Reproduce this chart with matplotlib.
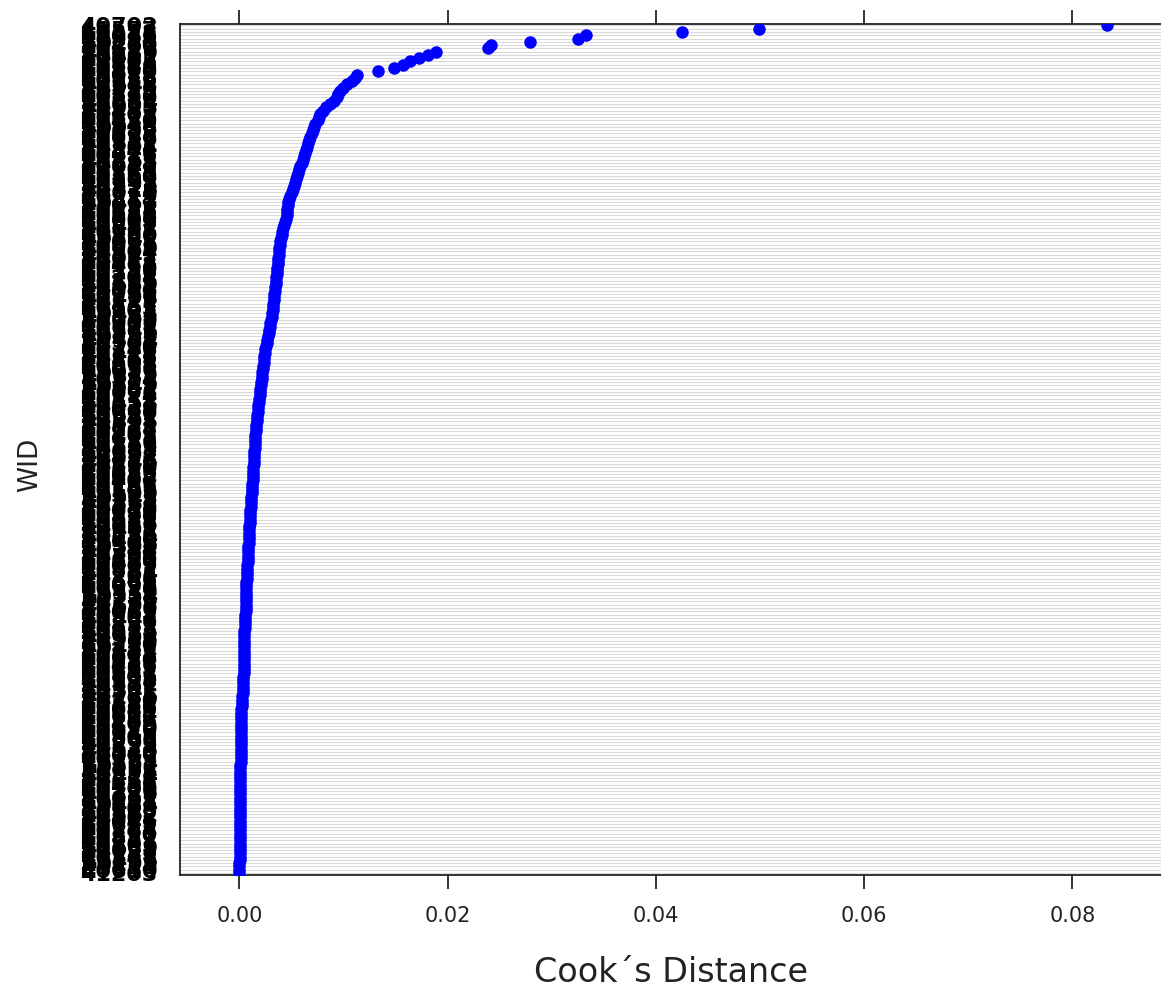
import numpy as np
import matplotlib.pyplot as plt

# WID labels, top row first
wid = """
40702 41577 40318 41026 40894 40233 41460 40517 41139 40961 40082 41305 40646 41788 40420 41012 40875 40159 41643 40396
41218 40537 40790 41354 40063 41925 40481 41107 40612 41470 40248 40933 41689 40175 41036 40759 41582 40304 41841 40426
40917 41263 40588 40041 41719 40365 41150 40802 41398 40127 41526 40674 40219 41874 40453 41091 40738 41615 40286 41002
40569 41432 40811 40197 41760 40342 41068 40625 41289 40904 41547 40071 41813 40468 40150 41376 40717 41204 40853 41659
40384 41021 40796 41498 40212 41137 40563 41902 40435 41265 40018 41703 40677 41346 40891 40259 41584 40502 41190 40746
41427 40133 41869 40608 40371 41056 40925 41632 40284 41313 40549 41781 40096 41174 40812 41458 40327 41039 40690 41527
40241 41895 40583 41118 40967 40405 41672 40136 41352 40781 40023 41597 40458 41246 40869 41810 40316 41083 40634 41402
40185 41741 40527 41199 40943 40278 41563 40711 41030 40398 41826 40652 41275 40089 41491 40836 41154 40370 41908 40599
40744 41337 40161 41620 40487 41009 40822 41754 40205 41386 40661 41093 40970 41539 40354 41228 40119 41695 40476 41062
40901 41443 40296 41857 40613 41125 40038 41598 40767 41310 40432 41747 40178 41024 40859 41476 40263 41681 40541 41161
40998 41372 40107 41541 40725 41236 40390 41782 40556 41049 40884 41617 40227 41409 40670 41170 40045 41868 40508 41293
40823 41515 40140 41067 40379 41734 40592 41251 40958 41424 40213 41651 40489 41100 40776 41339 40061 41888 40434 41208
40915 41562 40307 41045 40639 41727 40164 41390 40852 41271 40501 41639 40028 41183 40747 41436 40293 41814 40610 41203
""".split()

# Cook's distance, top row first (sorted, largest at top)
cooks_d = [
    0.0833, 0.0499, 0.0425, 0.0333, 0.0325, 0.0279, 0.0242, 0.0239, 0.0189, 0.0181,
    0.0172, 0.0164, 0.0157, 0.0148, 0.0133,
    0.0113, 0.0111, 0.0108, 0.0103, 0.0099, 0.0097, 0.0095, 0.0094,
    0.0091, 0.0087, 0.0083, 0.0080, 0.0077, 0.0076, 0.0075, 0.0073, 0.0072, 0.0071,
    0.0070, 0.0068, 0.0067, 0.0066, 0.0065, 0.0064, 0.0063, 0.0062, 0.0061, 0.0060,
    0.0058, 0.0057, 0.0056, 0.0055, 0.0054, 0.0053, 0.0052, 0.0051, 0.0050, 0.0049,
    0.00475, 0.00468, 0.00463, 0.00460, 0.00457, 0.00452, 0.00445, 0.00435, 0.00425, 0.00418,
    0.00412, 0.00406, 0.00400, 0.00393, 0.00388, 0.00384, 0.00380, 0.00376, 0.00372, 0.00370,
    0.00367, 0.00363, 0.00360, 0.00356, 0.00353, 0.00350, 0.00347, 0.00343, 0.00340, 0.00336,
    0.00331, 0.00328, 0.00325, 0.00322, 0.00318, 0.00315, 0.00312, 0.00305, 0.00298, 0.00292,
    0.00286, 0.00280, 0.00274, 0.00268, 0.00260, 0.00252, 0.00245, 0.00241, 0.00237, 0.00234,
    0.00231, 0.00228, 0.00225, 0.00221, 0.00217, 0.00213, 0.00209, 0.00205, 0.00201, 0.00197,
    0.00193, 0.00189, 0.00185, 0.00181, 0.00178, 0.00175, 0.00172, 0.00169, 0.00166, 0.00163,
    0.00160, 0.00157, 0.00154, 0.00151, 0.00149, 0.00147, 0.00145, 0.00143, 0.00141, 0.00139,
    0.00137, 0.00135, 0.00134, 0.00132, 0.00131, 0.00130, 0.00127, 0.00125, 0.00122, 0.00120,
    0.00117, 0.00115, 0.00112, 0.00110, 0.00107, 0.00105, 0.00102, 0.00100, 0.00098, 0.00097,
    0.00095, 0.00094, 0.00092, 0.00091, 0.00089, 0.00088, 0.00086, 0.00085, 0.00083, 0.00082,
    0.00080, 0.00078, 0.00076, 0.00074, 0.00072, 0.00070, 0.00068, 0.00066, 0.00064, 0.00062,
    0.00062, 0.00061, 0.00061, 0.00060, 0.00060, 0.00059, 0.00059, 0.00058, 0.00058, 0.00057,
    0.00056, 0.00055,
    0.00046, 0.00045, 0.00044, 0.00044, 0.00043, 0.00043, 0.00042, 0.00042, 0.00041, 0.00041,
    0.00040, 0.00040, 0.00039, 0.00039, 0.00038, 0.00038, 0.00037, 0.00037, 0.00036, 0.00035,
    0.00022, 0.00021, 0.00020, 0.00020, 0.00019, 0.00019, 0.00018, 0.00018, 0.00017, 0.00017,
    0.00016, 0.00016, 0.00015, 0.00015, 0.00014, 0.00014, 0.00013, 0.00013, 0.00012, 0.00012,
    0.00011,
    0.00007, 0.00007, 0.00006, 0.00006, 0.00006, 0.00005, 0.00005, 0.00005, 0.00005, 0.00004,
    0.00004, 0.00004, 0.00004, 0.00003, 0.00003, 0.00003, 0.00003, 0.00003, 0.00002, 0.00002,
    0.00002, 0.00002, 0.00002, 0.00002, 0.00001, 0.00001, 0.00001, 0.00001, 0.00001, 0.00001,
    0.00000, 0.00000, 0.00000, 0.00000,
]

x_ticks = [0.00, 0.02, 0.04, 0.06, 0.08]

n = min(len(cooks_d), len(wid))
vals = np.array(cooks_d[:n])
labels = wid[:n]
ypos = np.arange(n)[::-1]  # top row at the top

fig = plt.figure(figsize=(11.61, 9.94), dpi=100)
ax = fig.add_axes([180 / 1161, 1 - 875 / 994, 1 - 180 / 1161, (875 - 23.5) / 994])

# lattice-style row lines
for y in ypos:
    ax.axhline(y, color='#d9d9d9', lw=0.8, zorder=1)

ax.plot(vals, ypos, 'o', color='#0000ff', markersize=9, markeredgewidth=0, zorder=3)

ax.set_xlim(-0.00571, 0.0885)
ax.set_ylim(-0.6, n - 0.4)

ax.set_xticks(x_ticks)
ax.set_xticklabels([f'{t:.2f}' for t in x_ticks], fontsize=15, color='#222222')
ax.tick_params(axis='x', which='both', direction='out', length=10, width=1.3,
               top=True, bottom=True, labeltop=False, pad=12, color='#222222')

ax.set_yticks(ypos)
ax.set_yticklabels(labels, fontsize=16, color='black', fontweight='bold')
ax.tick_params(axis='y', length=0, pad=16)

for s in ['top', 'bottom', 'left']:
    ax.spines[s].set_linewidth(1.3)
    ax.spines[s].set_color('#222222')
ax.spines['right'].set_visible(False)

ax.set_xlabel('Cook´s Distance', fontsize=24, color='#222222', labelpad=22)
fig.text(30 / 1161, 1 - 465 / 994, 'WID', rotation=90, fontsize=19,
         color='#222222', ha='center', va='center')

fig.savefig('out.png', dpi=100)
